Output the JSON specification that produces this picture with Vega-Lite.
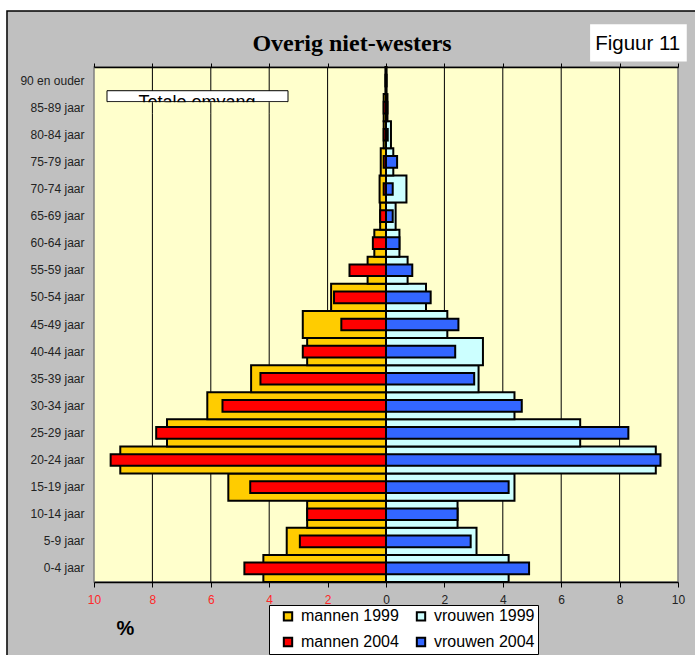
{
  "$schema": "https://vega.github.io/schema/vega-lite/v6.json",
  "width": 584,
  "height": 515,
  "autosize": {"type": "none"},
  "padding": {"left": 94, "top": 67, "right": 17, "bottom": 73},
  "background": "white",
  "config": {
    "view": {"fill": null, "stroke": null},
    "font": "Liberation Sans"
  },
  "title": {
    "text": "Overig niet-westers",
    "font": "Liberation Serif",
    "fontSize": 24,
    "fontWeight": "bold",
    "color": "black",
    "anchor": "middle",
    "frame": "group",
    "dx": -34,
    "dy": 76.3,
    "baseline": "alphabetic",
    "offset": 11
  },
  "datasets": {
    "pyr": [
      {"age": "0-4 jaar", "group": "mannen 1999", "year": 1999, "pct": -4.2},
      {"age": "0-4 jaar", "group": "mannen 2004", "year": 2004, "pct": -4.85},
      {"age": "0-4 jaar", "group": "vrouwen 1999", "year": 1999, "pct": 4.2},
      {"age": "0-4 jaar", "group": "vrouwen 2004", "year": 2004, "pct": 4.9},
      {"age": "5-9 jaar", "group": "mannen 1999", "year": 1999, "pct": -3.4},
      {"age": "5-9 jaar", "group": "mannen 2004", "year": 2004, "pct": -2.95},
      {"age": "5-9 jaar", "group": "vrouwen 1999", "year": 1999, "pct": 3.1},
      {"age": "5-9 jaar", "group": "vrouwen 2004", "year": 2004, "pct": 2.9},
      {"age": "10-14 jaar", "group": "mannen 1999", "year": 1999, "pct": -2.7},
      {"age": "10-14 jaar", "group": "mannen 2004", "year": 2004, "pct": -2.7},
      {"age": "10-14 jaar", "group": "vrouwen 1999", "year": 1999, "pct": 2.45},
      {"age": "10-14 jaar", "group": "vrouwen 2004", "year": 2004, "pct": 2.45},
      {"age": "15-19 jaar", "group": "mannen 1999", "year": 1999, "pct": -5.4},
      {"age": "15-19 jaar", "group": "mannen 2004", "year": 2004, "pct": -4.65},
      {"age": "15-19 jaar", "group": "vrouwen 1999", "year": 1999, "pct": 4.4},
      {"age": "15-19 jaar", "group": "vrouwen 2004", "year": 2004, "pct": 4.2},
      {"age": "20-24 jaar", "group": "mannen 1999", "year": 1999, "pct": -9.1},
      {"age": "20-24 jaar", "group": "mannen 2004", "year": 2004, "pct": -9.43},
      {"age": "20-24 jaar", "group": "vrouwen 1999", "year": 1999, "pct": 9.24},
      {"age": "20-24 jaar", "group": "vrouwen 2004", "year": 2004, "pct": 9.4},
      {"age": "25-29 jaar", "group": "mannen 1999", "year": 1999, "pct": -7.5},
      {"age": "25-29 jaar", "group": "mannen 2004", "year": 2004, "pct": -7.87},
      {"age": "25-29 jaar", "group": "vrouwen 1999", "year": 1999, "pct": 6.65},
      {"age": "25-29 jaar", "group": "vrouwen 2004", "year": 2004, "pct": 8.3},
      {"age": "30-34 jaar", "group": "mannen 1999", "year": 1999, "pct": -6.12},
      {"age": "30-34 jaar", "group": "mannen 2004", "year": 2004, "pct": -5.6},
      {"age": "30-34 jaar", "group": "vrouwen 1999", "year": 1999, "pct": 4.4},
      {"age": "30-34 jaar", "group": "vrouwen 2004", "year": 2004, "pct": 4.65},
      {"age": "35-39 jaar", "group": "mannen 1999", "year": 1999, "pct": -4.62},
      {"age": "35-39 jaar", "group": "mannen 2004", "year": 2004, "pct": -4.3},
      {"age": "35-39 jaar", "group": "vrouwen 1999", "year": 1999, "pct": 3.17},
      {"age": "35-39 jaar", "group": "vrouwen 2004", "year": 2004, "pct": 3.02},
      {"age": "40-44 jaar", "group": "mannen 1999", "year": 1999, "pct": -2.7},
      {"age": "40-44 jaar", "group": "mannen 2004", "year": 2004, "pct": -2.85},
      {"age": "40-44 jaar", "group": "vrouwen 1999", "year": 1999, "pct": 3.32},
      {"age": "40-44 jaar", "group": "vrouwen 2004", "year": 2004, "pct": 2.37},
      {"age": "45-49 jaar", "group": "mannen 1999", "year": 1999, "pct": -2.85},
      {"age": "45-49 jaar", "group": "mannen 2004", "year": 2004, "pct": -1.53},
      {"age": "45-49 jaar", "group": "vrouwen 1999", "year": 1999, "pct": 2.1},
      {"age": "45-49 jaar", "group": "vrouwen 2004", "year": 2004, "pct": 2.48},
      {"age": "50-54 jaar", "group": "mannen 1999", "year": 1999, "pct": -1.88},
      {"age": "50-54 jaar", "group": "mannen 2004", "year": 2004, "pct": -1.78},
      {"age": "50-54 jaar", "group": "vrouwen 1999", "year": 1999, "pct": 1.37},
      {"age": "50-54 jaar", "group": "vrouwen 2004", "year": 2004, "pct": 1.53},
      {"age": "55-59 jaar", "group": "mannen 1999", "year": 1999, "pct": -0.63},
      {"age": "55-59 jaar", "group": "mannen 2004", "year": 2004, "pct": -1.25},
      {"age": "55-59 jaar", "group": "vrouwen 1999", "year": 1999, "pct": 0.74},
      {"age": "55-59 jaar", "group": "vrouwen 2004", "year": 2004, "pct": 0.9},
      {"age": "60-64 jaar", "group": "mannen 1999", "year": 1999, "pct": -0.4},
      {"age": "60-64 jaar", "group": "mannen 2004", "year": 2004, "pct": -0.45},
      {"age": "60-64 jaar", "group": "vrouwen 1999", "year": 1999, "pct": 0.46},
      {"age": "60-64 jaar", "group": "vrouwen 2004", "year": 2004, "pct": 0.46},
      {"age": "65-69 jaar", "group": "mannen 1999", "year": 1999, "pct": -0.2},
      {"age": "65-69 jaar", "group": "mannen 2004", "year": 2004, "pct": -0.2},
      {"age": "65-69 jaar", "group": "vrouwen 1999", "year": 1999, "pct": 0.33},
      {"age": "65-69 jaar", "group": "vrouwen 2004", "year": 2004, "pct": 0.23},
      {"age": "70-74 jaar", "group": "mannen 1999", "year": 1999, "pct": -0.22},
      {"age": "70-74 jaar", "group": "mannen 2004", "year": 2004, "pct": -0.08},
      {"age": "70-74 jaar", "group": "vrouwen 1999", "year": 1999, "pct": 0.7},
      {"age": "70-74 jaar", "group": "vrouwen 2004", "year": 2004, "pct": 0.23},
      {"age": "75-79 jaar", "group": "mannen 1999", "year": 1999, "pct": -0.18},
      {"age": "75-79 jaar", "group": "mannen 2004", "year": 2004, "pct": -0.08},
      {"age": "75-79 jaar", "group": "vrouwen 1999", "year": 1999, "pct": 0.25},
      {"age": "75-79 jaar", "group": "vrouwen 2004", "year": 2004, "pct": 0.38},
      {"age": "80-84 jaar", "group": "mannen 1999", "year": 1999, "pct": -0.08},
      {"age": "80-84 jaar", "group": "mannen 2004", "year": 2004, "pct": -0.08},
      {"age": "80-84 jaar", "group": "vrouwen 1999", "year": 1999, "pct": 0.17},
      {"age": "80-84 jaar", "group": "vrouwen 2004", "year": 2004, "pct": 0.06},
      {"age": "85-89 jaar", "group": "mannen 1999", "year": 1999, "pct": -0.08},
      {"age": "85-89 jaar", "group": "mannen 2004", "year": 2004, "pct": -0.08},
      {"age": "85-89 jaar", "group": "vrouwen 1999", "year": 1999, "pct": 0.05},
      {"age": "85-89 jaar", "group": "vrouwen 2004", "year": 2004, "pct": 0.05},
      {"age": "90 en ouder", "group": "mannen 1999", "year": 1999, "pct": -0.02},
      {"age": "90 en ouder", "group": "mannen 2004", "year": 2004, "pct": -0.02},
      {"age": "90 en ouder", "group": "vrouwen 1999", "year": 1999, "pct": 0.02},
      {"age": "90 en ouder", "group": "vrouwen 2004", "year": 2004, "pct": 0.02}
    ]
  },
  "data": {"name": "pyr"},
  "layer": [
    {
      "data": {"values": [{}]},
      "mark": {"type": "rect", "fill": "#c0c0c0", "stroke": "black", "strokeWidth": 1.5},
      "encoding": {
        "x": {"datum": -12.98, "type": "quantitative", "scale": {"domain": [-10, 10], "nice": false}, "axis": null},
        "x2": {"datum": 10.8},
        "y": {"datum": 21.07, "type": "quantitative", "scale": {"domain": [0, 19], "nice": false, "zero": false}, "axis": null},
        "y2": {"datum": -2.9}
      }
    },
    {
      "data": {"values": [{}]},
      "mark": {"type": "rect", "fill": "#ffffcc", "stroke": "#808080", "strokeWidth": 1.5},
      "encoding": {
        "x": {"datum": -10, "type": "quantitative", "axis": null},
        "x2": {"datum": 10},
        "y": {"datum": 19, "type": "quantitative", "scale": {"domain": [0, 19], "nice": false, "zero": false}, "axis": null},
        "y2": {"datum": 0}
      }
    },
    {
      "data": {"values": [{"g": -8}, {"g": -6}, {"g": -4}, {"g": -2}, {"g": 2}, {"g": 4}, {"g": 6}, {"g": 8}]},
      "mark": {"type": "rule", "color": "black", "strokeWidth": 1},
      "encoding": {
        "x": {"field": "g", "type": "quantitative", "axis": null},
        "y": {"datum": 19, "type": "quantitative", "scale": {"domain": [0, 19], "nice": false, "zero": false}, "axis": null},
        "y2": {"datum": 0}
      }
    },
    {
      "transform": [{"filter": "datum.year == 1999"}],
      "mark": {"type": "bar", "stroke": "black", "strokeWidth": 2},
      "encoding": {
        "y": {
          "field": "age", "type": "nominal",
          "sort": ["90 en ouder", "85-89 jaar", "80-84 jaar", "75-79 jaar", "70-74 jaar", "65-69 jaar", "60-64 jaar", "55-59 jaar", "50-54 jaar", "45-49 jaar", "40-44 jaar", "35-39 jaar", "30-34 jaar", "25-29 jaar", "20-24 jaar", "15-19 jaar", "10-14 jaar", "5-9 jaar", "0-4 jaar"],
          "scale": {"paddingInner": 0, "paddingOuter": 0},
          "axis": {"title": null, "ticks": false, "domain": false, "grid": false, "zindex": 1, "labelFontSize": 12, "labelColor": "#222222", "labelPadding": 10, "labelFont": "Liberation Sans"}
        },
        "x": {
          "field": "pct", "type": "quantitative",
          "axis": {
            "orient": "bottom",
            "zindex": 1,
            "values": [-10, -8, -6, -4, -2, 0, 2, 4, 6, 8, 10],
            "labelExpr": "'' + abs(datum.value)",
            "labelFlush": false,
            "labelFontSize": 12,
            "labelFont": "Liberation Sans",
            "labelColor": {"condition": {"test": "datum.value < 0", "value": "#ff2828"}, "value": "#222222"},
            "labelPadding": 7,
            "tickSize": 5,
            "tickColor": "black",
            "domainColor": "black",
            "domainWidth": 1.5,
            "grid": false,
            "title": "%",
            "titleFontSize": 20,
            "titleFontWeight": "bold",
            "titleFont": "Liberation Sans",
            "titleColor": "black",
            "titleX": 31,
            "titleY": 46,
            "titleAlign": "center",
            "titleBaseline": "middle"
          }
        },
        "color": {
          "field": "group", "type": "nominal",
          "scale": {"domain": ["mannen 1999", "vrouwen 1999", "mannen 2004", "vrouwen 2004"], "range": ["#ffcc00", "#ccffff", "#ff0000", "#3366ff"]},
          "legend": {
            "orient": "none", "legendX": 175, "legendY": 538,
            "columns": 2, "direction": "horizontal", "title": null,
            "labelFontSize": 16, "labelFont": "Liberation Sans", "labelColor": "black",
            "symbolType": "square", "symbolSize": 70,
            "symbolStrokeColor": "black", "symbolStrokeWidth": 2,
            "fillColor": "white", "strokeColor": "black",
            "padding": 3, "rowPadding": 8, "columnPadding": 6,
            "symbolOffset": 8, "labelOffset": 5
          }
        }
      }
    },
    {
      "transform": [{"filter": "datum.year == 2004"}],
      "mark": {"type": "bar", "stroke": "black", "strokeWidth": 2, "height": {"band": 0.43}},
      "encoding": {
        "y": {
          "field": "age", "type": "nominal",
          "sort": ["90 en ouder", "85-89 jaar", "80-84 jaar", "75-79 jaar", "70-74 jaar", "65-69 jaar", "60-64 jaar", "55-59 jaar", "50-54 jaar", "45-49 jaar", "40-44 jaar", "35-39 jaar", "30-34 jaar", "25-29 jaar", "20-24 jaar", "15-19 jaar", "10-14 jaar", "5-9 jaar", "0-4 jaar"],
          "scale": {"paddingInner": 0, "paddingOuter": 0},
          "axis": null
        },
        "x": {
          "field": "pct", "type": "quantitative",
          "axis": {"orient": "top", "zindex": 1, "values": [-10, -8, -6, -4, -2, 0, 2, 4, 6, 8, 10], "labels": false, "tickSize": 4, "tickColor": "black", "domainColor": "black", "domainWidth": 1.5, "grid": false, "title": null}
        },
        "color": {
          "field": "group", "type": "nominal",
          "scale": {"domain": ["mannen 1999", "vrouwen 1999", "mannen 2004", "vrouwen 2004"], "range": ["#ffcc00", "#ccffff", "#ff0000", "#3366ff"]}
        }
      }
    },
    {
      "data": {"values": [{}]},
      "mark": {"type": "rect", "fill": "white", "stroke": "black", "strokeWidth": 1},
      "encoding": {
        "x": {"datum": -9.555, "type": "quantitative", "axis": null},
        "x2": {"datum": -3.356},
        "y": {"datum": 18.125, "type": "quantitative", "scale": {"domain": [0, 19], "nice": false, "zero": false}, "axis": null},
        "y2": {"datum": 17.72}
      }
    },
    {
      "data": {"values": [{}]},
      "mark": {"type": "text", "text": "Totale omvang", "fontSize": 18, "font": "Liberation Sans", "color": "black", "align": "center", "baseline": "alphabetic"},
      "encoding": {
        "x": {"datum": -6.47, "type": "quantitative", "axis": null},
        "y": {"datum": 17.49, "type": "quantitative", "scale": {"domain": [0, 19], "nice": false, "zero": false}, "axis": null}
      }
    },
    {
      "data": {"values": [{}]},
      "mark": {"type": "rect", "fill": "#ffffcc", "strokeWidth": 0},
      "encoding": {
        "x": {"datum": -9.53, "type": "quantitative", "axis": null},
        "x2": {"datum": -3.38},
        "y": {"datum": 17.70, "type": "quantitative", "scale": {"domain": [0, 19], "nice": false, "zero": false}, "axis": null},
        "y2": {"datum": 17.28}
      }
    },
    {
      "data": {"values": [{"g": -8}, {"g": -6}, {"g": -4}]},
      "mark": {"type": "rule", "color": "black", "strokeWidth": 1},
      "encoding": {
        "x": {"field": "g", "type": "quantitative", "axis": null},
        "y": {"datum": 17.70, "type": "quantitative", "scale": {"domain": [0, 19], "nice": false, "zero": false}, "axis": null},
        "y2": {"datum": 17.28}
      }
    },
    {
      "data": {"values": [{}]},
      "mark": {"type": "rect", "fill": "white", "strokeWidth": 0},
      "encoding": {
        "x": {"datum": 6.99, "type": "quantitative", "axis": null},
        "x2": {"datum": 10.3},
        "y": {"datum": 20.58, "type": "quantitative", "scale": {"domain": [0, 19], "nice": false, "zero": false}, "axis": null},
        "y2": {"datum": 19.2}
      }
    },
    {
      "data": {"values": [{}]},
      "mark": {"type": "text", "text": "Figuur 11", "fontSize": 20.5, "font": "Liberation Sans", "color": "black", "align": "center", "baseline": "alphabetic"},
      "encoding": {
        "x": {"datum": 8.62, "type": "quantitative", "axis": null},
        "y": {"datum": 19.63, "type": "quantitative", "scale": {"domain": [0, 19], "nice": false, "zero": false}, "axis": null}
      }
    }
  ],
  "resolve": {"scale": {"y": "independent"}}
}
